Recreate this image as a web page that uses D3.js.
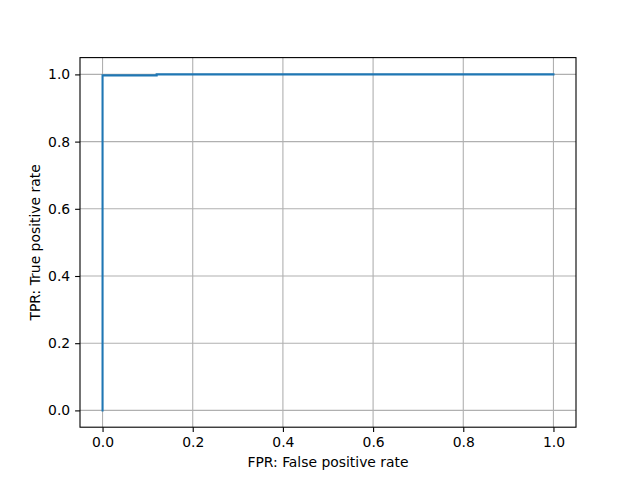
<!DOCTYPE html>
<html>
<head>
<meta charset="utf-8">
<script src="https://cdn.jsdelivr.net/npm/d3@7"></script>
<style>
  body { margin: 0; background: #fff; }
  text { font-family: "DejaVu Sans", sans-serif; }
</style>
</head>
<body>
<div id="chart"></div>
<script>
// ROC curve points
const fpr = [0, 0, 0.12, 0.12, 1];
const tpr = [0, 0.997, 0.997, 1, 1];
const xTicks = [0, 0.2, 0.4, 0.6, 0.8, 1.0];
const yTicks = [0, 0.2, 0.4, 0.6, 0.8, 1.0];

const width = 640, height = 480;
const margin = {top: 57.6, right: 64, bottom: 52.8, left: 80};
const w = width - margin.left - margin.right;
const h = height - margin.top - margin.bottom;

const svg = d3.select("#chart").append("svg")
    .attr("width", width)
    .attr("height", height);

const g = svg.append("g")
    .attr("transform", `translate(${margin.left}, ${margin.top})`);

const x = d3.scaleLinear().domain([-0.05, 1.05]).range([0, w]);
const y = d3.scaleLinear().domain([-0.05, 1.05]).range([h, 0]);

// grid
g.append("g").selectAll("line").data(xTicks).enter().append("line")
    .attr("x1", d => x(d)).attr("x2", d => x(d))
    .attr("y1", 0).attr("y2", h)
    .attr("stroke", "#b0b0b0").attr("stroke-width", 1.1);
g.append("g").selectAll("line").data(yTicks).enter().append("line")
    .attr("y1", d => y(d)).attr("y2", d => y(d))
    .attr("x1", 0).attr("x2", w)
    .attr("stroke", "#b0b0b0").attr("stroke-width", 1.1);

// curve
const line = d3.line().x((d, i) => x(fpr[i])).y((d, i) => y(tpr[i]));
g.append("path")
    .datum(fpr)
    .attr("d", line)
    .attr("fill", "none")
    .attr("stroke", "#1f77b4")
    .attr("stroke-width", 2.08)
    .attr("stroke-linejoin", "miter")
    .attr("stroke-linecap", "square");

// axes
const xAxis = d3.axisBottom(x).tickValues(xTicks).tickFormat(d3.format(".1f"))
    .tickSizeInner(4.9).tickSizeOuter(0).tickPadding(4.9);
const yAxis = d3.axisLeft(y).tickValues(yTicks).tickFormat(d3.format(".1f"))
    .tickSizeInner(4.9).tickSizeOuter(0).tickPadding(4.9);

const gx = g.append("g").attr("transform", `translate(0, ${h})`).call(xAxis);
const gy = g.append("g").call(yAxis);
[gx, gy].forEach(a => {
    a.select(".domain").remove();
    a.selectAll(".tick line").attr("stroke", "#000").attr("stroke-width", 1.1);
    a.selectAll(".tick text").attr("font-size", "13.9px").attr("fill", "#000")
        .attr("font-family", "DejaVu Sans, sans-serif");
});

// frame
g.append("rect")
    .attr("width", w).attr("height", h)
    .attr("fill", "none").attr("stroke", "#000").attr("stroke-width", 1.1);

// labels
g.append("text")
    .attr("x", w / 2).attr("y", h + 40)
    .attr("text-anchor", "middle")
    .attr("font-size", "13.9px")
    .text("FPR: False positive rate");

g.append("text")
    .attr("transform", "rotate(-90)")
    .attr("x", -h / 2).attr("y", -40)
    .attr("text-anchor", "middle")
    .attr("font-size", "13.9px")
    .text("TPR: True positive rate");
</script>
</body>
</html>
